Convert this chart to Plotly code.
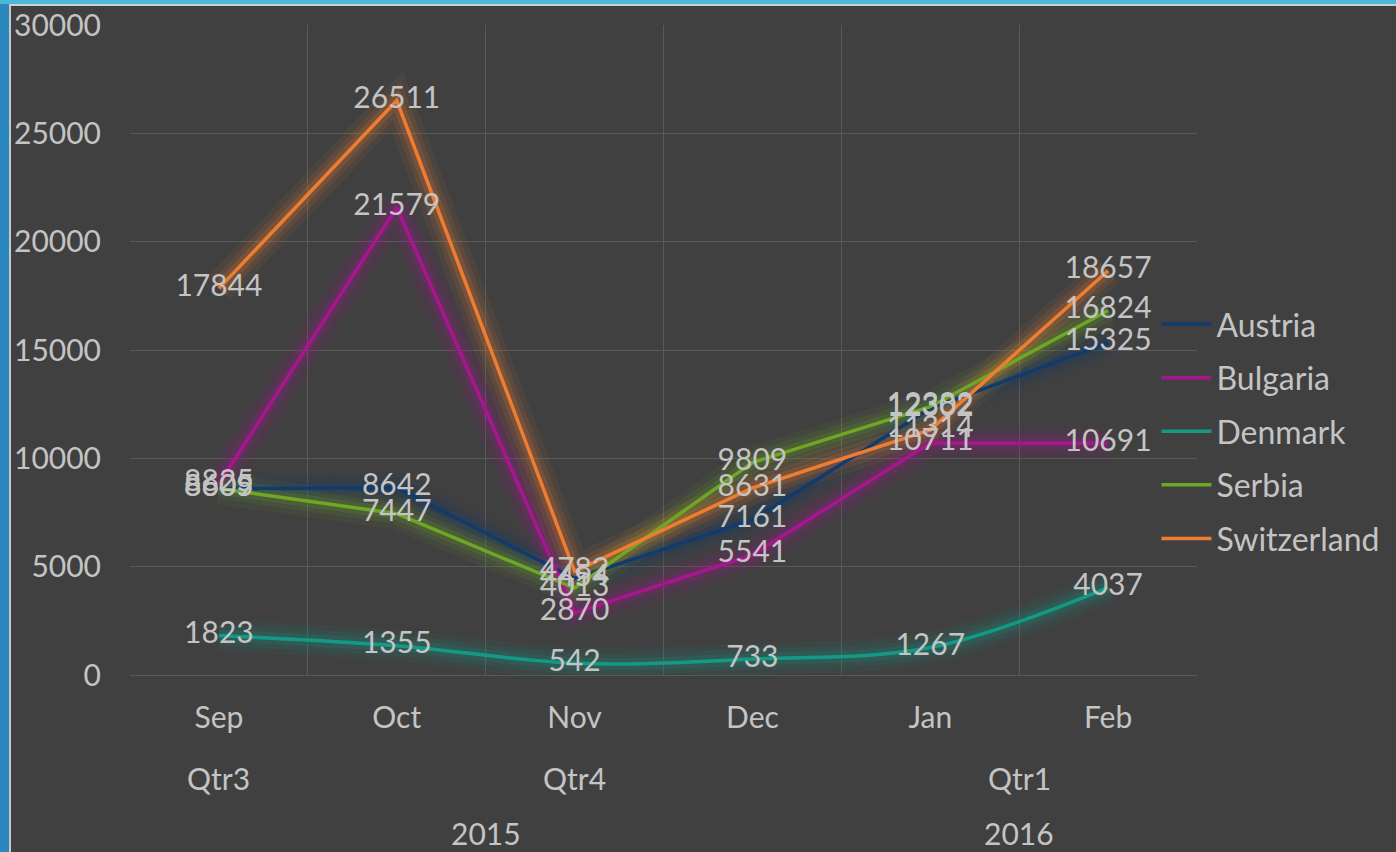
import plotly.graph_objects as go

months = ["Sep", "Oct", "Nov", "Dec", "Jan", "Feb"]
quarters = ["Qtr3", "Qtr4", "Qtr1"]
quarter_pos = [0, 2, 4.5]
years = ["2015", "2016"]
year_pos = [1.5, 4.5]
y_ticks = [0, 5000, 10000, 15000, 20000, 25000, 30000]
y_ticktext = ["0", "5000", "10000", "15000", "20000", "25000", "30000"]

austria = [8605, 8642, 4454, 7161, 12302, 15325]
bulgaria = [8825, 21579, 2870, 5541, 10711, 10691]
denmark = [1823, 1355, 542, 733, 1267, 4037]
serbia = [8609, 7447, 4013, 9809, 12382, 16824]
switzerland = [17844, 26511, 4782, 8631, 11314, 18657]

series = [
    ("Austria", austria, "#123b6d", "linear"),
    ("Bulgaria", bulgaria, "#a8168f", "linear"),
    ("Denmark", denmark, "#139a86", "spline"),
    ("Serbia", serbia, "#6fa626", "linear"),
    ("Switzerland", switzerland, "#ee7d32", "linear"),
]

FONT = "Lato"
TXT = "#c4c4c4"
BG = "#404040"
FS = 30

fig = go.Figure()

# glow layers
for name, vals, col, shape in series:
    for w, op in [(32, 0.07), (21, 0.11), (12, 0.17)]:
        fig.add_trace(go.Scatter(
            x=months, y=vals, mode="lines", line=dict(color=col, width=w, shape=shape),
            opacity=op, showlegend=False, hoverinfo="skip"))

for name, vals, col, shape in series:
    fig.add_trace(go.Scatter(
        x=months, y=vals, name=name, mode="lines", legendgroup=name,
        line=dict(color=col, width=3.5, shape=shape)))

for name, vals, col, shape in series:
    fig.add_trace(go.Scatter(
        x=months, y=vals, mode="text", text=[str(v) for v in vals],
        textposition="middle center", textfont=dict(family=FONT, size=FS, color=TXT),
        showlegend=False, hoverinfo="skip"))

ann = []
for q, p in zip(quarters, quarter_pos):
    ann.append(dict(x=p, y=-0.159, xref="x", yref="paper", text=q, showarrow=False,
                    font=dict(family=FONT, size=FS, color=TXT), yanchor="middle"))
for yv, p in zip(years, year_pos):
    ann.append(dict(x=p, y=-0.243, xref="x", yref="paper", text=yv, showarrow=False,
                    font=dict(family=FONT, size=FS, color=TXT), yanchor="middle"))

shapes = [
    # left blue strip
    dict(type="rect", xref="paper", yref="paper", x0=-0.13, x1=(9 - 130) / 1067,
         y0=-0.3, y1=1.1, fillcolor="#2a88bd", line=dict(width=0), layer="below"),
    dict(type="rect", xref="paper", yref="paper", x0=(9 - 130) / 1067, x1=(11 - 130) / 1067,
         y0=-0.3, y1=(675 - 5) / 650, fillcolor="#c8c8c8", line=dict(width=0), layer="below"),
    # top strip
    dict(type="rect", xref="paper", yref="paper", x0=-0.13, x1=1.2,
         y0=(675 - 4) / 650, y1=1.1, fillcolor="#4cb6dc", line=dict(width=0), layer="below"),
    dict(type="rect", xref="paper", yref="paper", x0=(9 - 130) / 1067, x1=1.2,
         y0=(675 - 6) / 650, y1=(675 - 4) / 650, fillcolor="#d0d0d0", line=dict(width=0), layer="below"),
]

fig.update_layout(
    width=1396, height=852,
    margin=dict(l=130, r=199, t=25, b=177, autoexpand=False),
    paper_bgcolor=BG, plot_bgcolor=BG,
    font=dict(family=FONT, size=FS, color=TXT),
    xaxis=dict(type="category", range=[-0.5, 5.5], tickson="boundaries",
               showgrid=True, gridcolor="#595959", gridwidth=1, ticks="",
               ticklabelstandoff=22, showline=False, zeroline=False, automargin=False,
               tickfont=dict(family=FONT, size=FS, color=TXT)),
    yaxis=dict(range=[0, 30000], tickvals=y_ticks, ticktext=y_ticktext,
               showgrid=True, gridcolor="#595959", gridwidth=1, zeroline=True,
               zerolinecolor="#595959", zerolinewidth=1, ticks="", ticklabelstandoff=28,
               showline=False, automargin=False, tickfont=dict(family=FONT, size=FS, color=TXT)),
    legend=dict(x=0.962, xanchor="left", y=0.375, yanchor="middle", bgcolor="rgba(0,0,0,0)",
                font=dict(family=FONT, size=32, color=TXT), itemwidth=50,
                tracegroupgap=9, traceorder="grouped"),
    annotations=ann, shapes=shapes, showlegend=True,
)

fig.write_html("out.html", config={"displayModeBar": False},
               post_script="document.body.style.margin='0';document.body.style.overflow='hidden';")
